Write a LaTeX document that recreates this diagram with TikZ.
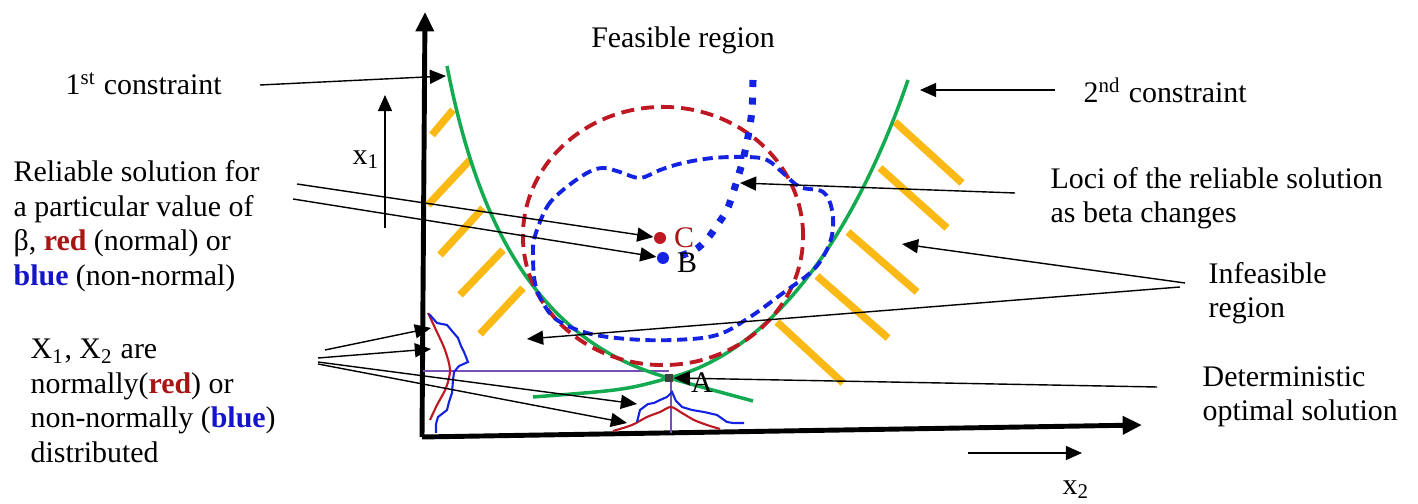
\documentclass[tikz,border=0pt]{standalone}
\usepackage{fontspec}
\setmainfont{Liberation Serif}
\usetikzlibrary{arrows.meta}
\definecolor{cgreen}{RGB}{20,170,80}
\definecolor{corange}{RGB}{250,185,20}
\definecolor{cred}{RGB}{190,25,35}
\definecolor{cblue}{RGB}{20,35,225}
\definecolor{cpurple}{RGB}{120,80,180}
\definecolor{tred}{RGB}{170,20,20}
\definecolor{tblue}{RGB}{20,20,200}
\tikzset{
  mainaxis/.style={
    line width=1.4pt,
    -{Triangle[length=5.5pt,width=5pt]}
  },
  ptr/.style={
    line width=0.4pt,
    -{Triangle[length=4.6pt,width=4pt]}
  },
  constr/.style={
    draw=cgreen,
    line width=1pt
  },
  hatch/.style={
    draw=corange,
    line width=2.1pt
  },
  txt/.style={
    anchor=west,
    align=left,
    inner sep=0pt,
    font=\fontsize{8.5}{9.8}\selectfont
  },
  sol/.style={
    shape=circle,
    inner sep=0pt,
    minimum size=0.12cm
  },
}
\begin{document}
\begin{tikzpicture}[x=0.01cm, y=-0.01cm]
  \useasboundingbox (0,0) rectangle (1418,504);
  % axes
  \coordinate (O) at (422,437);
  \coordinate (yend) at (425,12);
  \coordinate (xend) at (1142,425);
  \draw[mainaxis] (O) -- (yend);
  \draw[mainaxis] (O) -- (xend);
  \coordinate (x1s) at (385,228);
  \coordinate (x1t) at (385,95);
  \coordinate (x2s) at (968,453);
  \coordinate (x2t) at (1082,453);
  \draw[ptr] (x1s) -- (x1t);
  \draw[ptr] (x2s) -- (x2t);
  \node[txt] (xa) at (352,160) {x\textsubscript{1}};
  \node[txt] (xb) at (1062,490) {x\textsubscript{2}};
  % hatching of the infeasible side
  \foreach \a/\b/\c/\d in {432/135/453/110, 428/205/470/160, 440/255/483/208,
                           460/295/503/250, 480/334/523/288}{
    \draw[hatch] (\a,\b) -- (\c,\d);
  }
  \foreach \a/\b/\c/\d in {895/122/962/183, 880/168/947/228, 848/232/917/292,
                           817/276/888/338, 777/322/843/383}{
    \draw[hatch] (\a,\b) -- (\c,\d);
  }
  % optimum and its projections
  \coordinate (A) at (669,378);
  \draw[cpurple, line width=0.7pt] (423,371) -- (669,371);
  \draw[cpurple, line width=0.7pt] (671,380) -- (671,433);
  % constraints
  \draw[constr] (447,66) .. controls (475,210) and (530,340) .. (A)
                .. controls (705,388) .. (753,401);
  \draw[constr] (908,80) .. controls (860,220) and (780,350) .. (A)
                .. controls (625,390) .. (533,397);
  % reliability boundaries
  \draw[cred, line width=1.1pt, dash pattern=on 3.7pt off 2pt]
    (663,236) ellipse [x radius=1.40cm, y radius=1.29cm];
  \draw[cblue, line width=1.1pt, dash pattern=on 2.9pt off 1.6pt]
    plot[smooth cycle, tension=0.6] coordinates {(535,236) (547,207) (563,190)
    (587,173) (603,168) (620,172) (640,178) (660,170) (683,163) (713,158)
    (747,157) (767,160) (783,173) (800,187) (823,192) (832,210) (832,235)
    (823,257) (810,273) (783,293) (750,317) (717,335) (673,340) (627,339)
    (587,333) (557,320) (543,303) (535,283) (533,255)};
  % loci
  \draw[cblue, line width=2pt, dash pattern=on 2pt off 3pt]
    plot[smooth] coordinates {(753,80) (752,110) (748,137) (743,160) (738,177)
    (733,193) (727,210) (718,224) (708,238) (695,250) (674,258)};
  % distributions
  \draw[cred, line width=0.6pt] plot[smooth] coordinates {(428,313) (436,330)
    (445,350) (450,370) (446,388) (437,405) (430,420)};
  \draw[cblue, line width=0.6pt] plot coordinates {(429,314) (437,323) (447,325)
    (452,331) (458,338) (461,346) (464,352) (468,362) (459,366) (454,372)
    (453,380) (452,393) (449,402) (447,410) (438,417) (436,424) (436,433)};
  \draw[cred, line width=0.6pt] plot[smooth] coordinates {(613,431) (632,425)
    (647,417) (660,412) (671,407) (682,413) (694,420) (707,425) (720,429)};
  \draw[cblue, line width=0.6pt] plot coordinates {(637,422) (640,410) (648,404)
    (654,403) (660,400) (667,397) (672,392) (676,401) (682,407) (692,410)
    (704,412) (717,415) (727,422) (733,423) (744,423)};
  % solutions
  \node[fill=black!75, inner sep=0pt, minimum size=0.08cm] (Amark) at (A) {};
  \node[sol, fill=cred] (C) at (660,238) {};
  \node[sol, fill=cblue] (B) at (663,258) {};
  \node[txt, anchor=center] (Alab) at (702,383) {A};
  \node[txt, anchor=center, text=tred] (Clab) at (684,238) {C};
  \node[txt, anchor=center] (Blab) at (687,263) {B};
  % labels
  \node[txt] (c1) at (65,84) {1\textsuperscript{st} constraint};
  \node[txt] (c2) at (1083,90) {2\textsuperscript{nd} constraint};
  \node[txt, anchor=center] (feas) at (683,40) {Feasible region};
  \node[txt] (rel) at (13,226) {Reliable solution for\\a particular value of\\
    β, \textbf{\color{tred}red} (normal) or\\\textbf{\color{tblue}blue} (non-normal)};
  \node[txt] (dist) at (30,401) {X\textsubscript{1}, X\textsubscript{2} are\\
    normally(\textbf{\color{tred}red}) or\\non-normally (\textbf{\color{tblue}blue})\\distributed};
  \node[txt] (loci) at (1050,198) {Loci of the reliable solution\\as beta changes};
  \node[txt] (infeas) at (1208,293) {Infeasible\\region};
  \node[txt] (det) at (1202,397) {Deterministic\\optimal solution};
  % pointers
  \coordinate (c1s) at (260,85);
  \coordinate (c1t) at (446,76);
  \coordinate (c2s) at (1055,90);
  \coordinate (c2t) at (920,90);
  \coordinate (r1s) at (297,184);
  \coordinate (r2s) at (293,199);
  \coordinate (d1s) at (325,350);
  \coordinate (d2s) at (318,358);
  \coordinate (d3s) at (318,362);
  \coordinate (d4s) at (318,364);
  \coordinate (dt1) at (431,328);
  \coordinate (dt2) at (431,349);
  \coordinate (dt3) at (637,404);
  \coordinate (dt4) at (627,423);
  \coordinate (ls) at (1015,193);
  \coordinate (lt) at (740,183);
  \coordinate (is1) at (1185,283);
  \coordinate (is2) at (1180,287);
  \coordinate (it1) at (902,244);
  \coordinate (it2) at (527,339);
  \coordinate (ds) at (1157,387);
  \draw[ptr] (c1s) -- (c1t);
  \draw[ptr] (c2s) -- (c2t);
  \draw[ptr] (r1s) -- (C);
  \draw[ptr] (r2s) -- (B);
  \draw[ptr] (d1s) -- (dt1);
  \draw[ptr] (d2s) -- (dt2);
  \draw[ptr] (d3s) -- (dt3);
  \draw[ptr] (d4s) -- (dt4);
  \draw[ptr] (ls) -- (lt);
  \draw[ptr] (is1) -- (it1);
  \draw[ptr] (is2) -- (it2);
  \draw[ptr] (ds) -- (Amark.east);
\end{tikzpicture}
\end{document}
